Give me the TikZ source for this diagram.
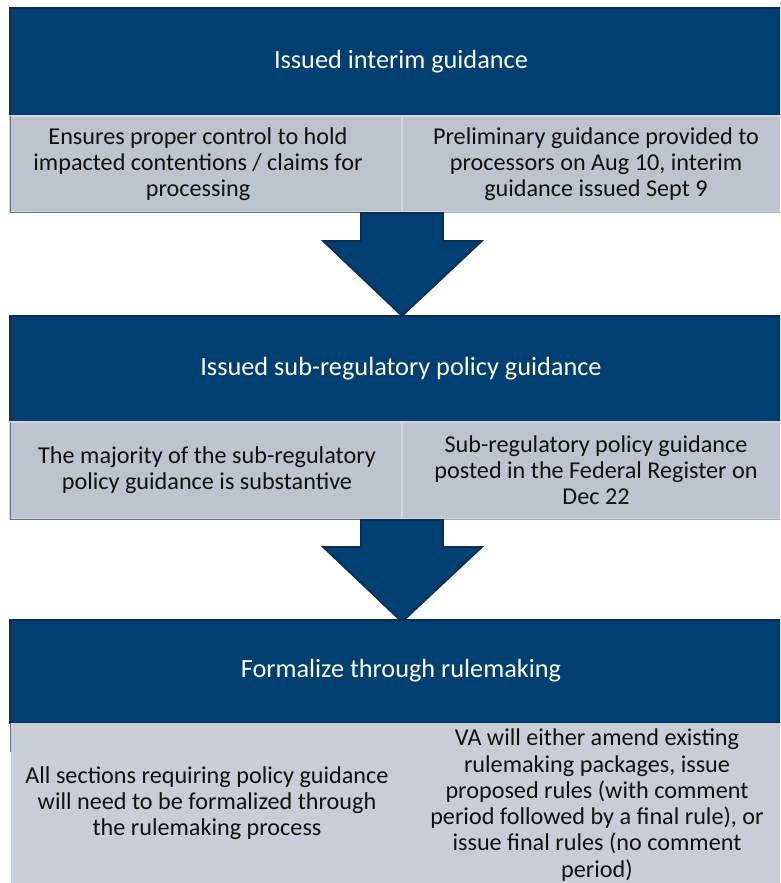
\documentclass[tikz,border=0pt]{standalone}
\usepackage{fontspec}
\setmainfont{Carlito}
\definecolor{hdrblue}{HTML}{003F72}
\definecolor{hdredge}{HTML}{0B2E52}
\definecolor{cellgray}{HTML}{BDC4CE}
\definecolor{cellgray3}{HTML}{C9CDD5}
\definecolor{celledge}{HTML}{D2D6DC}
\definecolor{outeredge}{HTML}{5F7592}
\definecolor{txt}{HTML}{111111}
\begin{document}
\begin{tikzpicture}[x=1pt,y=-1pt,
  hdr/.style={fill=hdrblue,draw=hdredge,line width=1.6pt},
  cell/.style={fill=cellgray,draw=celledge,line width=1.4pt},
  blockarrow/.style={fill=hdrblue,draw=hdredge,line width=1.6pt,line join=miter},
  hdrtext/.style={text=white,font=\fontsize{26.3}{30}\selectfont,inner sep=0pt},
  celltext/.style={text=txt,font=\fontsize{24.2}{26.3}\selectfont,align=center,inner sep=0pt}]
\useasboundingbox (0,0) rectangle (780,883);
\clip (0,0) rectangle (780,883);
\fill[white] (0,0) rectangle (780,883);
% ---- block 1
\draw[hdr] (10,8) rectangle (790,116);
\node[hdrtext] (h1) at (401,62) {Issued interim guidance};
\draw[cell] (10,116) rectangle (402,212);
\draw[cell] (402,116) rectangle (790,212);
\draw[outeredge,line width=1.2pt] (10.5,116) -- (10.5,212.5) -- (402,212.5);
\draw[outeredge!60,line width=1pt] (402,212.5) -- (790,212.5);
\node[celltext] (c1l) at (198,164) {Ensures proper control to hold\\impacted contentions / claims for\\processing};
\node[celltext] (c1r) at (596,164) {Preliminary guidance provided to\\processors on Aug 10, interim\\guidance issued Sept 9};
% ---- arrow 1
\draw[blockarrow] (361,213) -- (443,213) -- (443,241) -- (482,241) -- (402,316) -- (323,241) -- (361,241) -- cycle;
% ---- block 2
\draw[hdr] (10,316) rectangle (790,422);
\node[hdrtext] (h2) at (401,369) {Issued sub-regulatory policy guidance};
\draw[cell] (10,422) rectangle (402,519);
\draw[cell] (402,422) rectangle (790,519);
\draw[outeredge,line width=1.2pt] (10.5,422) -- (10.5,519.5) -- (402,519.5);
\draw[outeredge!60,line width=1pt] (402,519.5) -- (790,519.5);
\node[celltext] (c2l) at (207,470) {The majority of the sub-regulatory\\policy guidance is substantive};
\node[celltext] (c2r) at (596,470) {Sub-regulatory policy guidance\\posted in the Federal Register on\\Dec 22};
% ---- arrow 2
\draw[blockarrow] (361,520) -- (443,520) -- (443,547) -- (482,547) -- (402,622) -- (323,547) -- (361,547) -- cycle;
% ---- block 3
\draw[hdr] (10,620) rectangle (790,723);
\node[hdrtext] (h3) at (401,671) {Formalize through rulemaking};
\fill[cellgray3] (11,723) rectangle (790,890);
\draw[outeredge,line width=1.2pt] (10.5,723) -- (10.5,752);
\node[celltext] (c3l) at (207,803) {All sections requiring policy guidance\\will need to be formalized through\\the rulemaking process};
\node[celltext] (c3r) at (597,805) {VA will either amend existing\\rulemaking packages, issue\\proposed rules (with comment\\period followed by a final rule), or\\issue final rules (no comment\\period)};
\end{tikzpicture}
\end{document}
